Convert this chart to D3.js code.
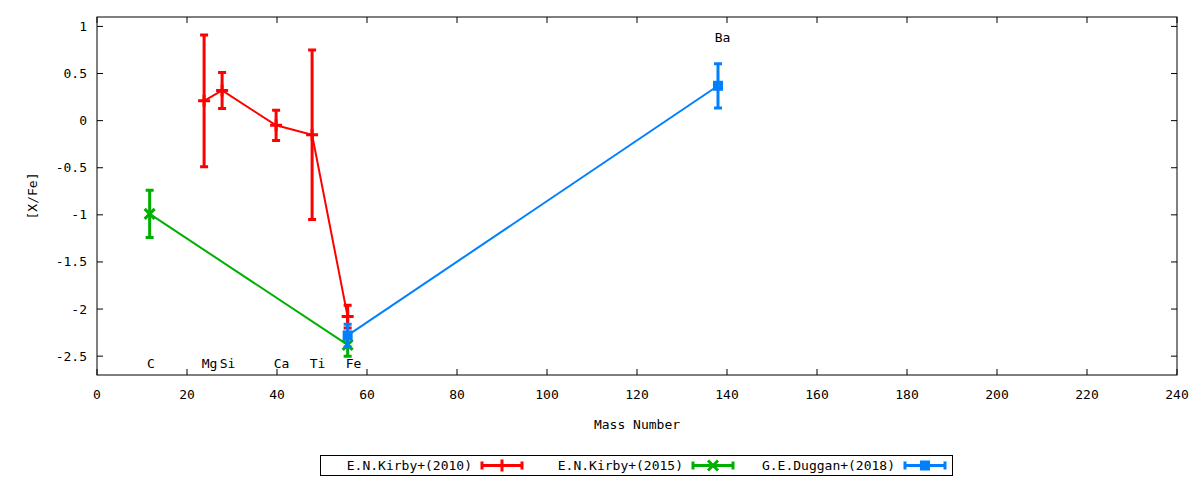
<!DOCTYPE html>
<html>
<head>
<meta charset="utf-8">
<script src="https://cdn.jsdelivr.net/npm/d3@7"></script>
<style>
  body { margin: 0; background: #fff; }
  text { font-family: "DejaVu Sans Mono", monospace; font-size: 13px; fill: #000; }
</style>
</head>
<body>
<div id="chart"></div>
<script>
// data: mass number, [X/Fe] and error half-width
const kirby2010 = [
  { el: "Mg", x: 23.8, y: 0.21, err: 0.70 },
  { el: "Si", x: 27.8, y: 0.32, err: 0.19 },
  { el: "Ca", x: 39.8, y: -0.05, err: 0.16 },
  { el: "Ti", x: 47.8, y: -0.15, err: 0.90 },
  { el: "Fe", x: 55.7, y: -2.08, err: 0.12 }
];
const kirby2015 = [
  { el: "C", x: 11.7, y: -0.99, err: 0.25 },
  { el: "Fe", x: 55.7, y: -2.38, err: 0.12 }
];
const duggan2018 = [
  { el: "Fe", x: 55.7, y: -2.28, err: 0.12 },
  { el: "Ba", x: 138, y: 0.37, err: 0.235 }
];
const elementLabels = [
  { text: "C", x: 12, y: -2.58 },
  { text: "Mg", x: 25, y: -2.58 },
  { text: "Si", x: 29, y: -2.58 },
  { text: "Ca", x: 41, y: -2.58 },
  { text: "Ti", x: 49, y: -2.58 },
  { text: "Fe", x: 57, y: -2.58 },
  { text: "Ba", x: 139, y: 0.88 }
];
const xTicks = d3.range(0, 241, 20);
const yTicks = [1, 0.5, 0, -0.5, -1, -1.5, -2, -2.5];

const series = [
  { name: "E.N.Kirby+(2010)", data: kirby2010, color: "#ff0000", mark: "plus" },
  { name: "E.N.Kirby+(2015)", data: kirby2015, color: "#00b000", mark: "cross" },
  { name: "G.E.Duggan+(2018)", data: duggan2018, color: "#0080ff", mark: "square" }
];

const W = 1200, H = 480;
const margin = { top: 17, right: 23, bottom: 105, left: 97 };
const width = W - margin.left - margin.right;
const height = H - margin.top - margin.bottom;

const svg = d3.select("#chart").append("svg")
  .attr("width", W)
  .attr("height", H);

const g = svg.append("g")
  .attr("transform", `translate(${margin.left},${margin.top})`);

const x = d3.scaleLinear().domain([0, 240]).range([0, width]);
const y = d3.scaleLinear().domain([-2.7, 1.1]).range([height, 0]);

// ticks, gnuplot style: inward, mirrored
const tickLen = 6;
xTicks.forEach(t => {
  g.append("line").attr("x1", x(t)).attr("x2", x(t)).attr("y1", height).attr("y2", height - tickLen).attr("stroke", "#000");
  g.append("line").attr("x1", x(t)).attr("x2", x(t)).attr("y1", 0).attr("y2", tickLen).attr("stroke", "#000");
  g.append("text").attr("x", x(t)).attr("y", height + 24).attr("text-anchor", "middle").text(t);
});
yTicks.forEach(t => {
  g.append("line").attr("x1", 0).attr("x2", tickLen).attr("y1", y(t)).attr("y2", y(t)).attr("stroke", "#000");
  g.append("line").attr("x1", width).attr("x2", width - tickLen).attr("y1", y(t)).attr("y2", y(t)).attr("stroke", "#000");
  g.append("text").attr("x", -10).attr("y", y(t)).attr("dy", "0.35em").attr("text-anchor", "end").text(t);
});

g.append("rect")
  .attr("x", 0).attr("y", 0)
  .attr("width", width).attr("height", height)
  .attr("fill", "none").attr("stroke", "#000");

// axis titles
g.append("text")
  .attr("x", width / 2).attr("y", height + 54)
  .attr("text-anchor", "middle")
  .text("Mass Number");

g.append("text")
  .attr("transform", `translate(${-65},${height / 2}) rotate(-90)`)
  .attr("text-anchor", "middle")
  .attr("dy", "0.35em")
  .text("[X/Fe]");

// element names
g.selectAll(".el-label")
  .data(elementLabels)
  .join("text")
  .attr("class", "el-label")
  .attr("x", d => x(d.x))
  .attr("y", d => y(d.y))
  .attr("dy", "0.35em")
  .attr("text-anchor", "middle")
  .text(d => d.text);

function drawMark(sel, type, cx, cy, color) {
  if (type === "plus") {
    sel.append("path").attr("d", `M${cx - 6},${cy}H${cx + 6}M${cx},${cy - 6}V${cy + 6}`)
      .attr("stroke", color).attr("stroke-width", 3);
  } else if (type === "cross") {
    sel.append("path").attr("d", `M${cx - 5},${cy - 5}L${cx + 5},${cy + 5}M${cx - 5},${cy + 5}L${cx + 5},${cy - 5}`)
      .attr("stroke", color).attr("stroke-width", 3);
  } else {
    sel.append("rect").attr("x", cx - 5).attr("y", cy - 5).attr("width", 10).attr("height", 10)
      .attr("fill", color);
  }
}

const line = d3.line().x(d => x(d.x)).y(d => y(d.y));
const cap = 4;

series.forEach(s => {
  const sg = g.append("g");
  sg.append("path")
    .datum(s.data)
    .attr("d", line)
    .attr("fill", "none")
    .attr("stroke", s.color)
    .attr("stroke-width", 2);

  s.data.forEach(d => {
    const px = x(d.x), top = y(d.y + d.err), bot = y(d.y - d.err);
    sg.append("path")
      .attr("d", `M${px},${top}V${bot}M${px - cap},${top}H${px + cap}M${px - cap},${bot}H${px + cap}`)
      .attr("stroke", s.color)
      .attr("stroke-width", 3)
      .attr("fill", "none");
    drawMark(sg, s.mark, px, y(d.y), s.color);
  });
});

// legend
const legend = svg.append("g");
legend.append("rect")
  .attr("x", 320.5).attr("y", 455.5)
  .attr("width", 632).attr("height", 20)
  .attr("fill", "none").attr("stroke", "#000");

const legendTextEnd = [472, 683, 895];
series.forEach((s, i) => {
  const xe = legendTextEnd[i];
  const cy = 465.5;
  legend.append("text")
    .attr("x", xe).attr("y", cy).attr("dy", "0.35em")
    .attr("text-anchor", "end")
    .text(s.name);
  const x0 = xe + 10, x1 = xe + 50;
  legend.append("path")
    .attr("d", `M${x0},${cy}H${x1}M${x0},${cy - 4}V${cy + 4}M${x1},${cy - 4}V${cy + 4}`)
    .attr("stroke", s.color).attr("stroke-width", 3).attr("fill", "none");
  drawMark(legend, s.mark, (x0 + x1) / 2, cy, s.color);
});
</script>
</body>
</html>
